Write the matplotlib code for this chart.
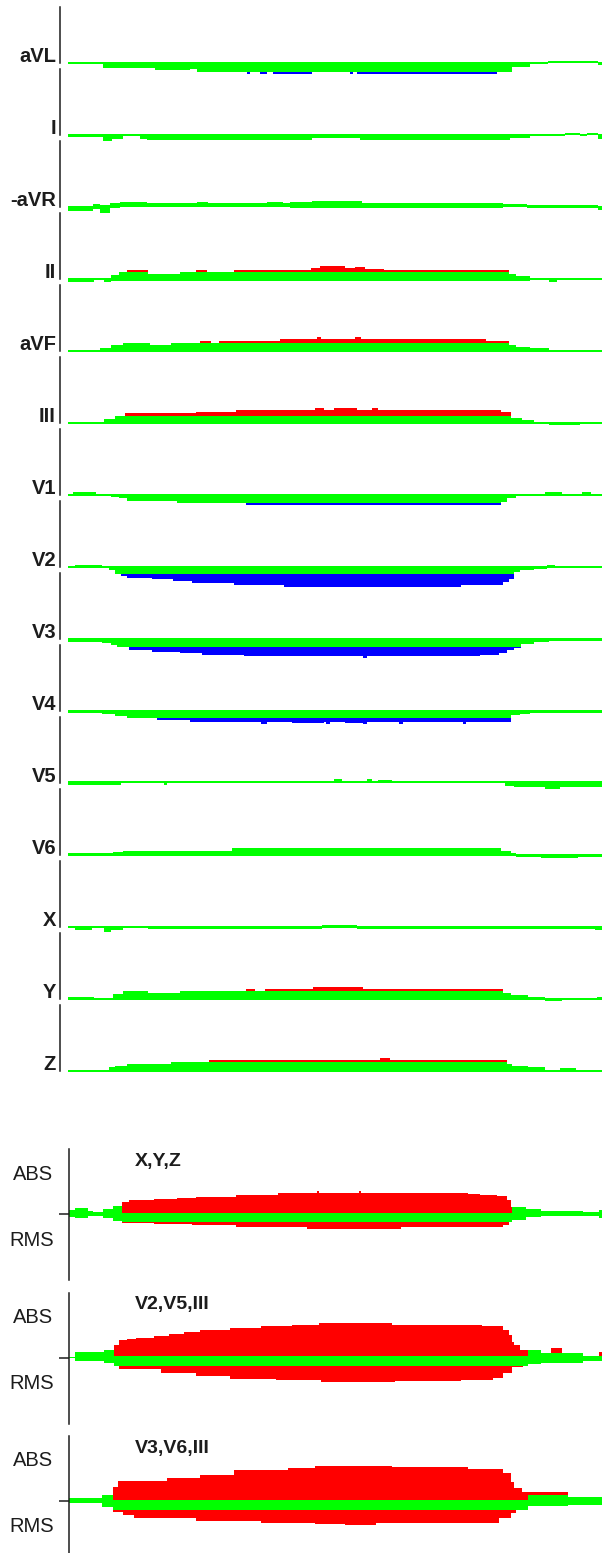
import numpy as np
import matplotlib
matplotlib.use("Agg")
import matplotlib.pyplot as plt

# ---------------- data ----------------
# lead names (top to bottom)
leads = ["aVL", "I", "-aVR", "II", "aVF", "III", "V1", "V2", "V3", "V4",
         "V5", "V6", "X", "Y", "Z"]

# each lead: rows of (sample, green_low, green_high, excess)
# excess > 0 -> red above green, excess < 0 -> blue below green
seg_aVL = [(0,-0.5,1,0),(35,-5,1,0),(87,-7,1,0),(122,-6,1,0),(129,-8.5,1,0),(179,-8.5,1,-2),
           (182,-8.5,1,0),(192,-8.5,1,-2),(199,-8.5,1,0),(205,-8.5,1,-2),(244,-8.5,1,0),
           (282,-8.5,1,-2),(285,-8.5,1,0),(289,-8.5,1,-2),(429,-8.5,1,0),(444,-4,1,0),
           (462,-1,1,0),(480,0,2,0),(530,-2,1,0)]
seg_I = [(0,-2,1,0),(35,-6,1,0),(44,-4,1,0),(55,-1,1,0),(72,-4,1,0),(79,-4.5,1,0),
         (244,-3,1,0),(292,-4.5,1,0),(442,-3,1,0),(462,-1,1,0),(497,0,2.5,0),
         (512,-1,1,0),(519,0,2.5,0),(530,-4,1,0)]
seg_aVR = [(0,-3.7,1,0),(25,-2.3,2.7,0),(32,-5.7,1.7,0),(42,-1.3,3.7,0),(52,-0.3,5.3,0),
           (79,-0.3,3.7,0),(129,-0.3,5.3,0),(140,-0.3,3.7,0),(199,-0.3,5.3,0),(215,-0.3,3.7,0),
           (222,-1.3,4.7,0),(244,-1.3,6,0),(294,-1.3,4.3,0),(435,-0.3,3,0),(459,-1.3,2.3,0),
           (530,-3,1,0)]
seg_II = [(0,-2.7,0.7,0),(26,-1,1,0),(36,-3,1,0),(43,-1.5,4,0),(51,-1.5,6.7,0),
          (59,-1.5,6.7,2.5),(80,-1.5,5,0),(112,-1.5,6.7,0),(128,-1.5,6.7,2.5),(139,-1.5,6.7,0),
          (166,-1.5,6.7,2.5),(243,-1.5,6.7,4),(252,-1.5,6.7,6.3),(277,-1.5,6.7,4),
          (287,-1.5,6.7,5.5),(297,-1.5,6.7,3.5),(316,-1.5,6.7,2.5),(441,-1.5,5,0),
          (448,-1.5,3,0),(462,-1,1,0),(481,-3,1,0),(489,-1,1,0)]
seg_aVF = [(0,-1,1,0),(24,-1,1.5,0),(32,-1,3,0),(43,-1,6,0),(55,-1,7.7,0),(82,-1,5.7,0),
           (103,-1,7.7,0),(132,-1,7.7,2.3),(143,-1,7.7,0),(151,-1,7.7,2.3),(212,-1,7.7,4.3),
           (249,-1,7.7,6),(253,-1,7.7,4.3),(287,-1,7.7,6),(293,-1,7.7,4.3),(418,-1,7.7,2.3),
           (441,-1,5.7,0),(448,-1,4,0),(462,-1,2.7,0),(481,-1,1,0)]
seg_III = [(0,-1,1,0),(36,-1,3.7,0),(47,-1,7,0),(57,-1,7,2.7),(128,-1,7,4),(168,-1,7,6),
           (247,-1,7,7.7),(256,-1,7,6),(266,-1,7,7.7),(289,-1,7,6),(304,-1,7,7.7),(310,-1,7,6),
           (433,-1,7,4),(443,-1,5.3,0),(454,-1,3,0),(466,-1,1,0),(481,-2,1,0),(512,-1,1,0)]
seg_V1 = [(0,-1,1.5,0),(5,-1,3,0),(28,-1,1.5,0),(43,-2,1.5,0),(51,-3.3,1.5,0),(59,-5.7,1.5,0),
          (109,-7.7,1.5,0),(178,-7.7,1.5,-2),(433,-6.7,1.5,0),(439,-3.3,1.5,0),(448,-1,1.5,0),
          (477,-1,3,0),(494,-1,1.5,0),(514,-1,3,0),(523,-1,1.5,0)]
seg_V2 = [(0,-1,1,0),(7,-1,2,0),(34,-1,1,0),(41,-3,1,0),(47,-6.5,1,0),(53,-7,1,-2),
          (59,-7,1,-3.7),(84,-7,1,-5.3),(105,-7,1,-7),(124,-7,1,-9.3),(166,-7,1,-11.3),
          (216,-7,1,-13.3),(393,-7,1,-11.3),(435,-7,1,-8),(441,-7,1,-4.7),(446,-5,1,0),
          (452,-3,1,0),(466,-1.5,1,0),(479,-1,2,0),(487,-1,1,0)]
seg_V3 = [(0,-2.7,1,0),(34,-4,1,0),(43,-6,1,0),(49,-7.7,1,0),(61,-7.7,1,-3.3),(84,-7.7,1,-5.3),
          (112,-7.7,1,-6.7),(134,-7.7,1,-8),(176,-7.7,1,-9.3),(295,-7.7,1,-11.7),(299,-7.7,1,-9.3),
          (412,-7.7,1,-8),(431,-7.7,1,-6),(439,-7.7,1,-3.3),(446,-7.7,1,-1.7),(453,-5,1,0),
          (466,-3,1,0),(481,-2,1,0)]
seg_V4 = [(0,-1.5,1,0),(34,-3,1,0),(47,-4.5,1,0),(59,-6.7,1,0),(89,-6.7,1,-2.3),(122,-6.7,1,-4.7),
          (193,-6.7,1,-6.7),(199,-6.7,1,-4.7),(224,-6.7,1,-5.7),(256,-6.7,1,-4.7),(258,-6.7,1,-6.7),
          (262,-6.7,1,-4.7),(277,-6.7,1,-5.7),(295,-6.7,1,-6.7),(299,-6.7,1,-4.7),(331,-6.7,1,-6.7),
          (335,-6.7,1,-4.7),(395,-6.7,1,-6.7),(398,-6.7,1,-4.7),(443,-4,1,0),(452,-3,1,0),
          (462,-1.5,1,0)]
seg_V5 = [(0,-2,2,0),(53,0,2,0),(66,-0.5,2,0),(96,-2,2,0),(99,-0.5,2,0),(266,-0.5,3.7,0),
          (274,-0.5,2,0),(299,-0.5,3.7,0),(304,-0.5,2,0),(310,-0.5,2.7,0),(324,-0.5,2,0),
          (437,-2.7,2,0),(446,-4.3,2,0),(477,-6.3,2,0),(492,-4.3,2,0)]
seg_V6 = [(0,-1,2.3,0),(45,-1,3.3,0),(55,-1,4.3,0),(164,-1,6.7,0),(433,-1,4.3,0),(443,-1,2.3,0),
          (448,-1.7,1.5,0),(473,-3.3,1.5,0),(510,-1.7,1.5,0)]
seg_X = [(0,-1.3,1.5,0),(7,-3,1.5,0),(24,-1.3,1.5,0),(36,-4.7,1.5,0),(43,-3,1.5,0),(55,-1.3,1.5,0),
         (80,-2.3,1.5,0),(254,-1,2,0),(289,-2.3,1.5,0),(527,-3,1.5,0)]
seg_Y = [(0,-1,1.7,0),(26,-1,1,0),(45,-1,5,0),(55,-1,8.3,0),(80,-1,5.7,0),(112,-1,8.3,0),
         (178,-1,8.3,1.7),(187,-1,8.3,0),(197,-1,8.3,1.7),(245,-1,8.3,3.3),(295,-1,8.3,1.7),
         (435,-1,6,0),(443,-1,4,0),(460,-1,2.3,0),(477,-1.7,1,0),(494,-1,1,0),(529,-1,2.5,0)]
seg_Z = [(0,-1,1,0),(41,-1,3.7,0),(47,-1,5.3,0),(59,-1,7,0),(103,-1,8.7,0),(141,-1,8.7,2.3),
         (312,-1,8.7,4.3),(322,-1,8.7,2.3),(439,-1,7,0),(444,-1,5.3,0),(460,-1,3.7,0),
         (477,-1,1,0),(492,-1,3,0),(508,-1,1,0)]

lead_segments = [seg_aVL, seg_I, seg_aVR, seg_II, seg_aVF, seg_III, seg_V1, seg_V2, seg_V3,
                 seg_V4, seg_V5, seg_V6, seg_X, seg_Y, seg_Z]
LEAD_END = 534

# summary panels: rows of (sample, green_low, green_high, ABS_top, RMS_bottom); 0 = none
panel_titles = ["X,Y,Z", "V2,V5,III", "V3,V6,III"]
pan_xyz = [(0,-3,4,0,0),(6,-3.7,6.3,0,0),(19,-2,3,0,0),(24,-2.3,1.5,0,0),(34,-3.7,4.7,0,0),
           (44,-7,8,0,0),(53,-8,0.7,12.3,-9.5),(60,-8,0.7,14,-9.5),(85,-8,0.7,14.7,-10),
           (108,-8,0.7,15.7,-10),(123,-8,0.7,15.7,-11),(127,-8,0.7,17.3,-11),(167,-8,0.7,19,-13.3),
           (209,-8,0.7,21.3,-13.3),(238,-8,0.7,21.3,-15.3),(248,-8,0.7,23,-15.3),(250,-8,0.7,21.3,-15.3),
           (290,-8,0.7,23,-15.3),(292,-8,0.7,21.3,-15.3),(332,-8,0.7,21.3,-13.3),(399,-8,0.7,20,-13.3),
           (411,-8,0.7,19,-13.3),(428,-8,0.7,18,-13.3),(434,-8,0.7,18,-11),(438,-8,0.7,14,-11),
           (440,-8,0.7,14,0),(442,-8,0.7,7.3,0),(443,-6,6.7,0,0),(457,-3.3,4.7,0,0),(472,-2,3,0,0),
           (514,-1.7,1.7,0,0),(530,-4,4,0,0)]
pan_v2v5 = [(0,-0.5,1,0,0),(6,-3.7,5.3,0,0),(35,-5.3,7.3,0,0),(45,-8,1.3,13,-8.3),(50,-8,1.3,17.3,-11.3),
            (58,-8,1.3,18.7,-11.3),(67,-8,1.3,19.7,-11.3),(85,-8,1.3,22,-11.3),(92,-8,1.3,22,-15.3),
            (100,-8,1.3,24,-15.3),(115,-8,1.3,25.3,-15.3),(127,-8,1.3,25.3,-18.7),(131,-8,1.3,27.3,-18.7),
            (161,-8,1.3,29.3,-21.3),(192,-8,1.3,31.3,-21.3),(207,-8,1.3,31.3,-22.7),(223,-8,1.3,32.7,-22.7),
            (250,-8,1.3,34.7,-22.7),(252,-8,1.3,34.7,-24.7),(323,-8,1.3,33,-24.7),(326,-8,1.3,33,-23.7),
            (392,-8,1.3,33,-22),(413,-8,1.3,31.3,-22),(424,-8,1.3,31.3,-20.3),(434,-8,1.3,28,-15.3),
            (440,-8,1.3,22.7,-15.3),(443,-8,1.3,16,-9.3),(445,-8,1.3,12.7,-9.3),(451,-8,1.3,7.7,-9.3),
            (454,-8,1.3,7.7,0),(459,-6.7,7.3,0,0),(472,-5,4.3,0,0),(482,-5,4.3,9.7,0),(493,-5,4.3,0,0),
            (514,-3.7,1.7,0,0),(530,-3.7,1.7,6,0)]
pan_v3v6 = [(0,-2,3,0,0),(33,-6,6,0,0),(44,-9,1,14,-10.7),(49,-9,1,20,-10.7),(54,-9,1,20,-14),
            (60,-9,1,20.3,-14),(65,-9,1,20.3,-16.7),(98,-9,1,22.7,-16.7),(127,-9,1,22.7,-19.7),
            (131,-9,1,26,-19.7),(165,-9,1,31,-19.7),(192,-9,1,31,-21.7),(219,-9,1,32.7,-21.7),
            (246,-9,1,35.3,-23),(276,-9,1,35.3,-24),(307,-9,1,35.3,-21.7),(323,-9,1,34.3,-21.7),
            (399,-9,1,31.7,-21.7),(430,-9,1,31.7,-17.3),(434,-9,1,28.3,-17.3),(442,-9,1,19.3,-12.3),
            (445,-9,1,12.7,-12.3),(447,-9,1,12.7,0),(453,-9,1,9.3,0),(459,-5.3,6.3,8.6,0),
            (499,-4.3,3.7,0,0)]
panel_segments = [pan_xyz, pan_v2v5, pan_v3v6]
PANEL_END = 533

# ---------------- style / layout ----------------
GREEN, RED, BLUE = "#00FF00", "#FF0000", "#0000FF"
INK = "#1c1c1c"
W, H = 602, 1553
plt.rcParams["font.family"] = ["Liberation Sans", "DejaVu Sans"]

fig = plt.figure(figsize=(W / 100, H / 100), dpi=100)


def cols(rows, t_end):
    a = np.asarray(rows, dtype=float)
    t = np.append(a[:, 0], t_end)
    out = [np.append(a[:, k], a[-1, k]) for k in range(1, a.shape[1])]
    return t, out


def fx(px):
    return px / W


def fy(px):
    return 1 - px / H


FILL = dict(step="post", lw=0, clip_on=False, antialiased=False)

# lead strips
for i, (name, rows) in enumerate(zip(leads, lead_segments)):
    base = 63 + 72 * i
    top = base - 66
    bot = base + 10
    ax = fig.add_axes([fx(60), fy(bot), fx(W - 60), (bot - top) / H])
    ax.set_xlim(-8, LEAD_END)
    ax.set_ylim(-10, 66)
    ax.patch.set_alpha(0)
    for s in ("top", "right", "bottom"):
        ax.spines[s].set_visible(False)
    ax.spines["left"].set_color(INK)
    ax.spines["left"].set_linewidth(1.1)
    ax.spines["left"].set_bounds(0, 56 if i == 0 else 66)
    ax.set_xticks([])
    ax.set_yticks([])
    t, (lo, hi, ex) = cols(rows, LEAD_END)
    ax.fill_between(t, lo, hi, color=GREEN, **FILL)
    ax.fill_between(t, hi, hi + np.clip(ex, 0, None), color=RED, **FILL)
    ax.fill_between(t, lo + np.clip(ex, None, 0), lo, color=BLUE, **FILL)
    fig.text(fx(56), fy(base - 0.5), name, ha="right", va="baseline", fontsize=14.5,
             fontweight="bold", color=INK)

# summary panels
for j, (title, rows) in enumerate(zip(panel_titles, panel_segments)):
    base = 1214 + 143.5 * j
    top = base - 66
    bot = base + 66
    ax = fig.add_axes([fx(69), fy(bot), fx(W - 69), (bot - top) / H])
    ax.set_xlim(0, PANEL_END)
    ax.set_ylim(-66, 66)
    ax.patch.set_alpha(0)
    for s in ("top", "right", "bottom"):
        ax.spines[s].set_visible(False)
    ax.spines["left"].set_color(INK)
    ax.spines["left"].set_linewidth(1.1)
    ax.spines["left"].set_bounds(-66, 65)
    ax.set_xticks([])
    ax.set_yticks([0])
    ax.set_yticklabels([])
    ax.tick_params(axis="y", direction="out", length=7.5, width=1.1, color=INK)
    t, (lo, hi, ab, rm) = cols(rows, PANEL_END)
    ax.fill_between(t, lo, hi, color=GREEN, **FILL)
    ax.fill_between(t, hi, np.maximum(ab, hi), color=RED, **FILL)
    ax.fill_between(t, np.minimum(rm, lo), lo, color=RED, **FILL)
    fig.text(fx(33), fy(base - 40), "ABS", ha="center", va="center", fontsize=14.5, color=INK)
    fig.text(fx(32), fy(base + 26), "RMS", ha="center", va="center", fontsize=14.5, color=INK)
    fig.text(fx(135), fy(base - 48), title, ha="left", va="baseline", fontsize=14,
             fontweight="bold", color=INK)

fig.savefig("out.png", dpi=100, facecolor="white")
